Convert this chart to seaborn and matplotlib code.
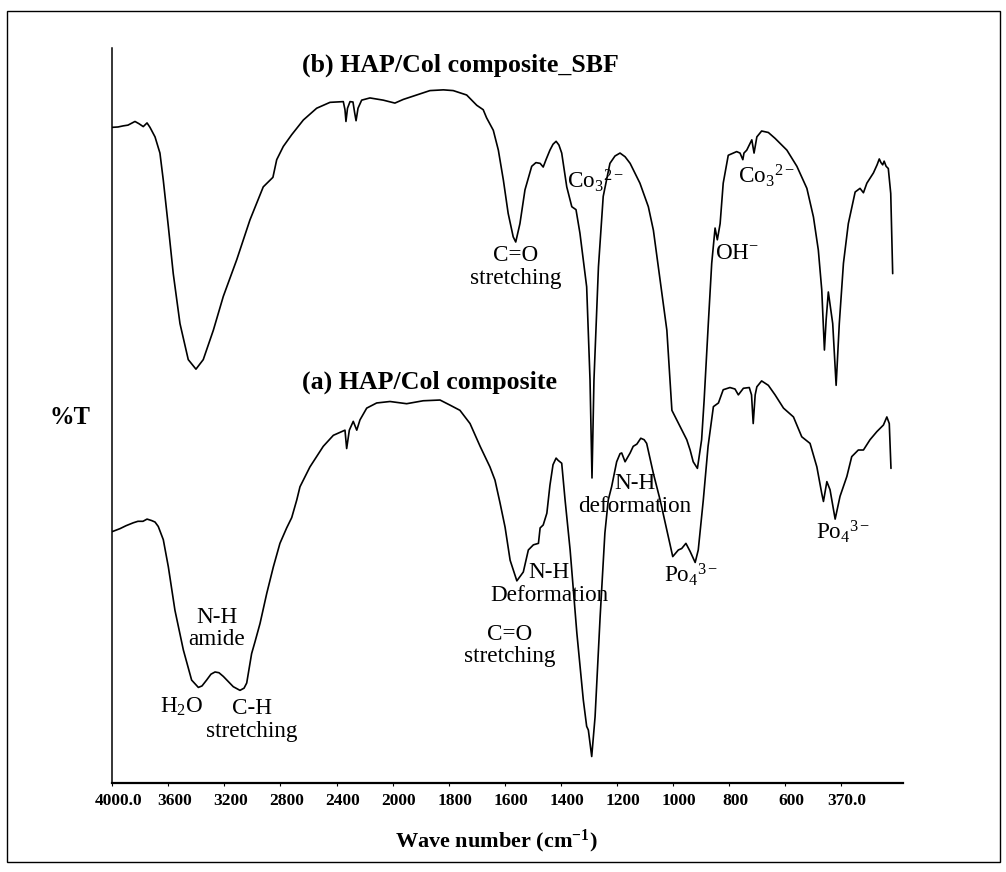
import numpy as np
import pandas as pd
import matplotlib
matplotlib.use("Agg")
import matplotlib.pyplot as plt
import matplotlib.transforms as mtransforms
from matplotlib.patches import Rectangle
from matplotlib.ticker import FixedLocator, FixedFormatter
import seaborn as sns

# ---- spectra (wavenumber in cm^-1, transmittance in arbitrary %T) ----
wn_b = [4000, 3959, 3922, 3888, 3838, 3810, 3779, 3752, 3731, 3695, 3660, 3636,
        3600, 3565, 3517, 3458, 3403, 3351, 3279, 3208, 3112, 3018, 2923, 2875,
        2854, 2827, 2780, 2720, 2637, 2542, 2447, 2352, 2340, 2333, 2322, 2304,
        2283, 2272, 2261, 2247, 2221, 2162, 2067, 1992, 1962, 1914, 1867, 1819,
        1784, 1736, 1700, 1677, 1665, 1641, 1623, 1605, 1588, 1570, 1561, 1546,
        1528, 1504, 1489, 1474, 1463, 1453, 1439, 1428, 1417, 1407, 1397, 1379,
        1361, 1346, 1332, 1308, 1296, 1289, 1282, 1266, 1249, 1225, 1207, 1189,
        1171, 1153, 1118, 1088, 1070, 1046, 1022, 1004, 975, 951, 939, 928, 913,
        898, 889, 882, 874, 862, 850, 842, 832, 821, 803, 773, 761, 751, 747,
        737, 719, 711, 701, 684, 660, 636, 593, 552, 511, 484, 464, 450, 439,
        432, 423, 405, 391, 378, 361, 341, 313, 293, 279, 265, 238, 223, 214,
        207, 200, 194, 186, 177, 167, 159]
t_b = [89.2, 89.25, 89.4, 89.5, 90.0, 89.7, 89.3, 89.8, 89.2, 87.9, 85.7, 82.0,
       75.7, 69.3, 62.5, 57.6, 56.3, 57.6, 61.6, 66.2, 71.2, 76.6, 81.1, 82.0,
       82.4, 84.8, 86.6, 88.2, 90.2, 91.8, 92.6, 92.7, 91.6, 90.0, 91.8, 92.7,
       92.65, 91.3, 90.1, 91.8, 92.9, 93.2, 92.9, 92.5, 93.0, 93.6, 94.2, 94.3,
       94.2, 93.6, 92.2, 91.6, 90.5, 88.8, 86.1, 82.0, 77.5, 74.3, 73.6, 76.1,
       80.7, 83.9, 84.4, 84.3, 83.8, 84.8, 86.1, 86.9, 87.3, 86.8, 85.7, 81.1,
       78.4, 78.0, 74.8, 67.5, 54.8, 41.5, 54.8, 70.2, 79.8, 84.3, 85.3, 85.7,
       85.2, 84.3, 81.6, 78.4, 75.2, 68.4, 61.6, 50.7, 48.5, 46.7, 45.3, 43.7, 42.8,
       46.7, 52.1, 56.9, 62.6, 70.7, 75.5, 73.9, 76.1, 81.6, 85.4, 85.9, 85.7, 84.8, 85.7,
       86.1, 87.5, 85.7, 87.9, 88.7, 88.5, 87.7, 86.1, 83.9, 80.9, 77.0, 72.5, 67.1, 58.9,
       63.0, 66.8, 62.5, 54.1, 62.5, 70.7, 76.1, 80.4, 80.9, 80.3, 81.6, 83.0, 84.1, 84.9,
       84.4, 84.1, 84.6, 83.9, 83.6, 80.2, 69.3]

wn_a = [4000, 3945, 3902, 3850, 3817, 3781, 3752, 3719, 3695, 3672, 3636, 3600,
        3553, 3493, 3434, 3386, 3360, 3327, 3296, 3267, 3239, 3208, 3137, 3089,
        3060, 3041, 3006, 2982, 2946, 2898, 2851, 2804, 2756, 2720, 2684, 2661,
        2590, 2495, 2423, 2340, 2328, 2309, 2281, 2256, 2233, 2185, 2114, 2019,
        1950, 1891, 1831, 1795, 1760, 1724, 1688, 1653, 1635, 1617, 1599, 1581,
        1557, 1534, 1516, 1498, 1480, 1474, 1463, 1450, 1439, 1428, 1417, 1410,
        1397, 1385, 1367, 1343, 1320, 1308, 1302, 1290, 1278, 1260, 1243, 1231,
        1219, 1201, 1189, 1183, 1171, 1153, 1142, 1129, 1115, 1103, 1094, 1070,
        1046, 1022, 1001, 981, 969, 954, 939, 921, 910, 898, 892, 875, 856, 838,
        821, 797, 779, 767, 749, 728, 720, 714, 707, 701, 684, 660, 636, 606, 566,
        532, 498, 470, 450, 443, 429, 416, 395, 375, 347, 327, 300, 279, 252, 224,
        197, 183, 173, 170, 166]
t_a = [34.2, 34.6, 35.0, 35.4, 35.6, 35.6, 35.9, 35.7, 35.5, 34.9, 33.1, 29.4,
       23.5, 18.1, 14.0, 13.0, 13.2, 14.0, 14.8, 15.1, 15.0, 14.5, 13.1, 12.6,
       12.9, 13.6, 17.6, 19.2, 21.7, 25.8, 29.4, 32.6, 34.7, 36.1, 38.5, 40.3,
       43.0, 45.8, 47.3, 48.0, 45.5, 48.0, 49.2, 48.0, 49.4, 51.0, 51.7, 51.9,
       51.6, 52.0, 52.1, 51.4, 50.7, 48.9, 45.8, 43.0, 41.2, 38.1, 34.8, 30.3,
       27.5, 28.7, 31.7, 32.4, 32.6, 34.7, 35.1, 36.7, 40.5, 43.3, 44.2, 43.9,
       43.5, 38.5, 31.7, 20.4, 11.3, 7.7, 7.2, 3.6, 9.0, 22.6, 34.0, 38.5,
       40.3, 43.7, 44.8, 44.9, 43.7, 44.9, 45.8, 46.1, 46.9, 46.7, 46.2, 42.1,
       38.5, 34.4, 30.8, 31.7, 31.9, 32.6, 31.5, 30.0, 31.7, 36.2, 38.5, 45.8, 51.2, 51.7,
       53.5, 53.8, 53.6, 52.8, 53.7, 53.8, 52.8, 48.9, 52.8, 53.9, 54.7, 54.1, 52.8, 51.0, 49.8,
       47.1, 46.2, 43.0, 39.4, 38.3, 41.0, 39.9, 35.9, 39.0, 41.7, 44.4, 45.3, 45.3, 46.7, 47.8,
       48.7, 49.8, 48.9, 46.2, 42.8]

tick_values = [4000, 3600, 3200, 2800, 2400, 2000, 1800, 1600, 1400, 1200,
               1000, 800, 600, 370]
tick_labels = ["4000.0", "3600", "3200", "2800", "2400", "2000", "1800", "1600",
               "1400", "1200", "1000", "800", "600", "370.0"]

series_titles = ["(b) HAP/Col composite_SBF", "(a) HAP/Col composite"]

# ---- piecewise-linear wavenumber axis (compressed above 2000 cm^-1) ----
KNOT_WN = np.array([8000.0, 4000.0, 2000.0, 600.0, 370.0, -600.0])
KNOT_POS = np.array([-10.0, 0.0, 5.0, 12.0, 13.0, 13.0 + 970.0 / 230.0])


def wn_forward(w):
    return np.interp(-np.asarray(w, dtype=float), -KNOT_WN, KNOT_POS)


def wn_inverse(p):
    return np.interp(np.asarray(p, dtype=float), KNOT_POS, KNOT_WN)


sns.set_style("white")
plt.rcParams["font.family"] = ["Liberation Serif", "DejaVu Serif"]
plt.rcParams["mathtext.fontset"] = "custom"
plt.rcParams["mathtext.rm"] = "Liberation Serif"
plt.rcParams["mathtext.it"] = "Liberation Serif:italic"
plt.rcParams["mathtext.bf"] = "Liberation Serif:bold"
plt.rcParams["text.color"] = "black"
plt.rcParams["axes.labelcolor"] = "black"
plt.rcParams["xtick.color"] = "black"
plt.rcParams["ytick.color"] = "black"

fig = plt.figure(figsize=(10.06, 8.72), dpi=100)
fig.patch.set_facecolor("white")
ax = fig.add_axes([0.1116, 0.1021, 0.7857, 0.8429])

df = pd.concat([
    pd.DataFrame({"wavenumber": wn_b, "T": t_b, "sample": "b"}),
    pd.DataFrame({"wavenumber": wn_a, "T": t_a, "sample": "a"}),
])
for name in ["b", "a"]:
    sub = df[df["sample"] == name]
    sns.lineplot(data=sub, x="wavenumber", y="T", color="black", lw=1.2,
                 estimator=None, sort=True, ax=ax, legend=False)

ax.set_xscale("function", functions=(wn_forward, wn_inverse))
ax.set_xlim(118, 4000)
ax.set_ylim(0, 100)
ax.xaxis.set_major_locator(FixedLocator(tick_values))
ax.xaxis.set_major_formatter(FixedFormatter(tick_labels))
ax.xaxis.set_minor_locator(FixedLocator([]))
ax.set_yticks([])

for side in ["top", "right"]:
    ax.spines[side].set_visible(False)
ax.spines["left"].set_linewidth(1.1)
ax.spines["bottom"].set_linewidth(1.6)
for side in ["left", "bottom"]:
    ax.spines[side].set_color("black")

ax.tick_params(axis="x", direction="out", length=2.5, width=0.8, color="black",
               labelcolor="black", pad=5, labelsize=12.5, bottom=True)
shift = mtransforms.ScaledTranslation(6 / 100, 0, fig.dpi_scale_trans)
for lab in ax.get_xticklabels():
    lab.set_fontweight("bold")
    lab.set_transform(lab.get_transform() + shift)

ax.set_xlabel(r"Wave number (cm$^{\mathbf{-1}}$)", fontsize=16, fontweight="bold",
              color="black")
ax.xaxis.set_label_coords(0.4855, -0.080)
ax.xaxis.label.set_va("center")
ax.set_ylabel("%T", fontsize=17.7, fontweight="bold", rotation=0, color="black")
ax.yaxis.set_label_coords(-0.053, 0.497)
ax.yaxis.label.set_va("center")
ax.yaxis.label.set_ha("center")

# sample titles
ax.text(2649, 96.8, series_titles[0], fontsize=18.6, fontweight="bold",
        color="black", ha="left", va="baseline")
ax.text(2649, 53.7, series_titles[1], fontsize=18.6, fontweight="bold",
        color="black", ha="left", va="baseline")

# band assignments
note = dict(fontsize=16.7, color="black", linespacing=1.1)
ax.text(1560, 70.2, "C=O\nstretching", ha="center", va="center", **note)
ax.text(1378, 81.9, r"Co$_3$$^{2-}$", ha="left", va="center", **note)
ax.text(850, 72.1, r"OH$^{-}$", ha="left", va="center", **note)
ax.text(767, 82.6, r"Co$_3$$^{2-}$", ha="left", va="center", **note)
ax.text(1136, 39.2, "N-H\ndeformation", ha="center", va="center", **note)
ax.text(1031, 28.3, r"Po$_4$$^{3-}$", ha="left", va="center", **note)
ax.text(474, 34.2, r"Po$_4$$^{3-}$", ha="left", va="center", **note)
ax.text(1442, 27.1, "N-H\nDeformation", ha="center", va="center", **note)
ax.text(1581, 18.7, "C=O\nstretching", ha="center", va="center", **note)
ax.text(3255, 21.0, "N-H\namide", ha="center", va="center", **note)
ax.text(3505, 10.4, r"H$_2$O", ha="center", va="center", **note)
ax.text(3003, 8.6, "C-H\nstretching", ha="center", va="center", **note)

# outer frame around the whole figure
fig.add_artist(Rectangle((0.007, 0.0115), 0.987, 0.9762, transform=fig.transFigure,
                         fill=False, edgecolor="black", linewidth=1.0))

fig.savefig("out.png", dpi=100, facecolor="white")
